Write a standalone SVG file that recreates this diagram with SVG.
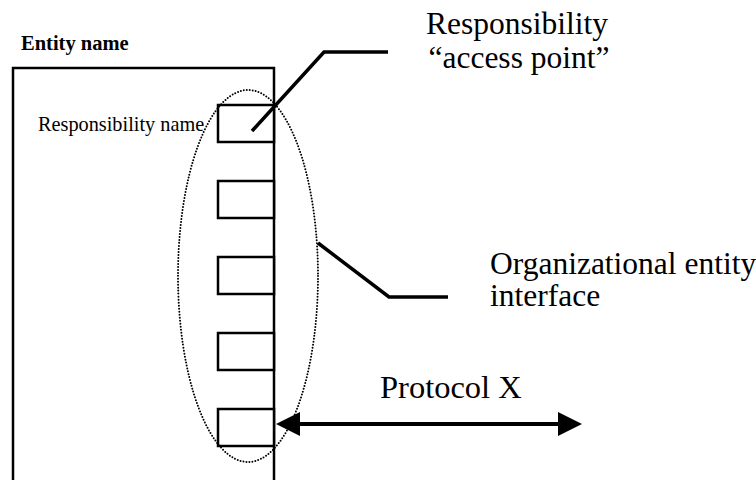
<svg xmlns="http://www.w3.org/2000/svg" width="756" height="480" viewBox="0 0 756 480">
<style>
.box{fill:#fff;stroke:#000;stroke-width:2.5}
.lead{fill:none;stroke:#000;stroke-width:3.5}
</style>
<rect width="756" height="480" fill="#fff"/>
<g font-family="Liberation Serif, 'Times New Roman', 'DejaVu Serif', serif" fill="#000">
<g id="entity">
<path d="M13,480 V68 H274 V480" fill="none" stroke="#000" stroke-width="2.5"/>
<text x="21" y="50" font-size="20.5" font-weight="bold">Entity name</text>
<text x="38" y="131" font-size="20.3">Responsibility name</text>
</g>
<g id="access-points">
<rect class="box" x="218" y="105" width="56" height="37"/>
<rect class="box" x="218" y="181" width="56" height="37"/>
<rect class="box" x="218" y="257" width="56" height="37"/>
<rect class="box" x="218" y="333" width="56" height="37"/>
<rect class="box" x="218" y="409" width="56" height="37"/>
</g>
<g id="interface">
<ellipse cx="248" cy="276" rx="70" ry="186" fill="none" stroke="#000" stroke-width="2" stroke-dasharray="0 3" stroke-linecap="round"/>
</g>
<g id="labels" font-size="31.5">
<text x="517" y="34" text-anchor="middle">Responsibility</text>
<text x="519" y="68" text-anchor="middle">“access point”</text>
<text x="490" y="274">Organizational entity</text>
<text x="490" y="306">interface</text>
<text x="380" y="398" font-size="32.5">Protocol X</text>
</g>
</g>
<g id="connectors">
<polyline class="lead" points="252,131 324,52 388,52"/>
<polyline class="lead" points="318,243 389,297 448,297"/>
<line x1="296" y1="424" x2="562" y2="424" stroke="#000" stroke-width="4"/>
<polygon points="276,424 300,412 300,436" fill="#000"/>
<polygon points="582,424 558,412 558,436" fill="#000"/>
</g>
</svg>
